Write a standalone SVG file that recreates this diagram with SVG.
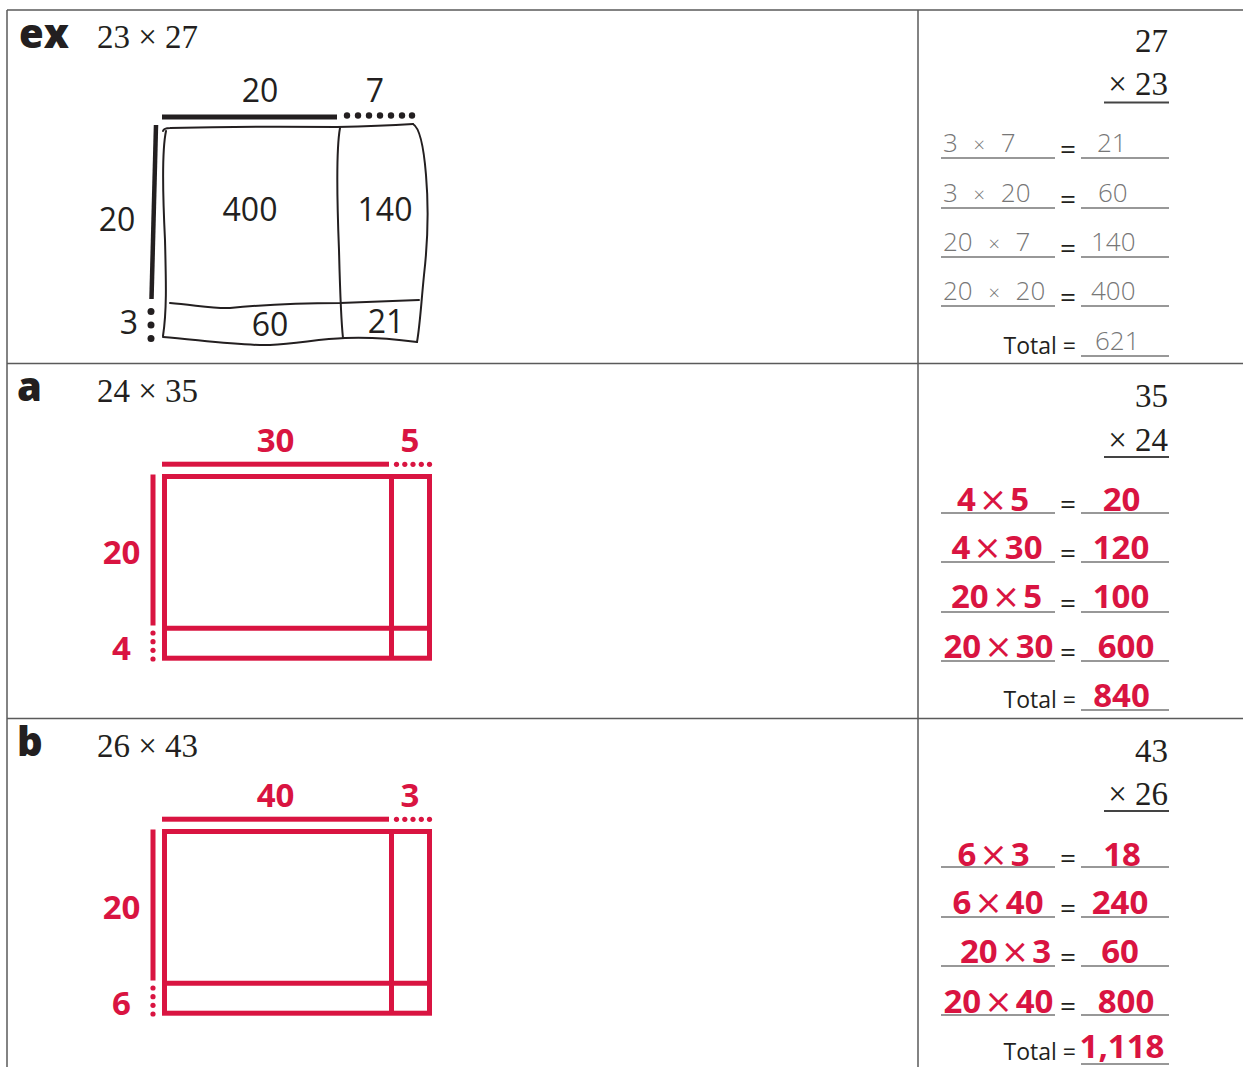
<svg xmlns="http://www.w3.org/2000/svg" width="1243" height="1067" viewBox="0 0 1243 1067">
<style>
.grid{stroke:#5a5a5a;stroke-width:1.5;fill:none}
.lbl{font-family:"Open Sans","Noto Sans",sans-serif;font-weight:800;font-size:40px;fill:#231f20}
.ser{font-family:"Liberation Serif","DejaVu Serif",serif;font-size:33px;fill:#231f20}
.num{font-family:"Open Sans","Noto Sans",sans-serif;font-size:32px;fill:#231f20;text-anchor:middle}
.red{font-family:"Open Sans","Noto Sans",sans-serif;font-weight:700;font-size:33px;fill:#d91441;text-anchor:middle}
.x{font-family:"DejaVu Sans",sans-serif;font-weight:400;font-size:34px}
.hw{font-family:"Open Sans","Noto Sans",sans-serif;font-weight:300;font-size:26px;fill:#777;word-spacing:9px}
.hx{font-size:20px}
.tot{font-family:"Open Sans","Noto Sans",sans-serif;font-size:23px;fill:#231f20}
.eq{font-family:"Open Sans","Noto Sans",sans-serif;font-size:28px;fill:#231f20;text-anchor:middle}
.ul{stroke:#333;stroke-width:1.2}
.ulh{stroke:#444;stroke-width:2}
.hand{fill:none;stroke:#231f20;stroke-width:2;stroke-linecap:round}
.rbar{fill:#d91441}
.rbox{fill:none;stroke:#d91441;stroke-width:5}
.rdot{fill:#d91441}
.kdot{fill:#231f20}
</style>
<g id="table">
<line class="grid" x1="7" y1="10" x2="1243" y2="10"/>
<line class="grid" x1="7" y1="10" x2="7" y2="1067"/>
<line class="grid" x1="918" y1="10" x2="918" y2="1067"/>
<line class="grid" x1="7" y1="363.5" x2="1243" y2="363.5"/>
<line class="grid" x1="7" y1="718.5" x2="1243" y2="718.5"/>
</g>

<g id="row-ex">
<text class="lbl" x="19" y="48">ex</text>
<text class="ser" x="97" y="48">23 × 27</text>
<rect x="162" y="114.5" width="175" height="5" fill="#231f20"/>
<g class="kdot">
<circle cx="347" cy="115.5" r="3.2"/><circle cx="358" cy="115.5" r="3.2"/><circle cx="369" cy="115.5" r="3.2"/><circle cx="380" cy="115.5" r="3.2"/><circle cx="391" cy="115.5" r="3.2"/><circle cx="402" cy="115.5" r="3.2"/><circle cx="412" cy="115.5" r="3.2"/>
</g>
<path d="M156 125 L151.5 299" stroke="#231f20" stroke-width="4.5" fill="none"/>
<g class="kdot">
<circle cx="151" cy="311.5" r="3.5"/><circle cx="151" cy="325" r="3.5"/><circle cx="151" cy="338.5" r="3.5"/>
</g>
<text class="num" x="260" y="102">20</text>
<text class="num" x="375" y="102">7</text>
<text class="num" x="117" y="231">20</text>
<text class="num" x="129" y="334">3</text>
<path class="hand" d="M163 131 Q164 128 170 128 Q250 126 337 127 Q380 126 413 124"/>
<path class="hand" d="M413 124 C420 128 424 150 426 175 C429 210 428 240 424 275 C421 305 420 325 417 342"/>
<path class="hand" d="M163 337 C200 340 240 346 270 345 C300 343 320 339 345 338 C370 337 395 339 417 342"/>
<path class="hand" d="M166 131 C162 150 163 200 165 240 C166 280 167 310 163 336"/>
<path class="hand" d="M340 128 C336 150 337 200 339 250 C340 290 341 320 343 338"/>
<path class="hand" d="M170 303 C195 305 215 309 230 308 C260 305 290 303 340 303 L419 300"/>
<text class="num" x="250" y="221">400</text>
<text class="num" x="385" y="221">140</text>
<text class="num" x="270" y="336">60</text>
<text class="num" x="386" y="333">21</text>
</g>

<g id="calc-ex">
<text class="ser" x="1168" y="52" text-anchor="end">27</text>
<text class="ser" x="1168" y="95" text-anchor="end">× 23</text>
<line class="ulh" x1="1104" y1="102.5" x2="1169" y2="102.5"/>
<g>
<line class="ul" x1="941" y1="158" x2="1055" y2="158"/><line class="ul" x1="1081" y1="158" x2="1169" y2="158"/>
<line class="ul" x1="941" y1="208" x2="1055" y2="208"/><line class="ul" x1="1081" y1="208" x2="1169" y2="208"/>
<line class="ul" x1="941" y1="257" x2="1055" y2="257"/><line class="ul" x1="1081" y1="257" x2="1169" y2="257"/>
<line class="ul" x1="941" y1="306" x2="1055" y2="306"/><line class="ul" x1="1081" y1="306" x2="1169" y2="306"/>
<line class="ul" x1="1081" y1="356" x2="1169" y2="356"/>
</g>
<text class="hw" x="943" y="152">3 <tspan class="hx">×</tspan> 7</text>
<text class="hw" x="943" y="202">3 <tspan class="hx">×</tspan> 20</text>
<text class="hw" x="943" y="251">20 <tspan class="hx">×</tspan> 7</text>
<text class="hw" x="943" y="300">20 <tspan class="hx">×</tspan> 20</text>
<text class="eq" x="1068" y="159">=</text>
<text class="eq" x="1068" y="209">=</text>
<text class="eq" x="1068" y="258">=</text>
<text class="eq" x="1068" y="307">=</text>
<text class="hw" x="1097" y="152">21</text>
<text class="hw" x="1098" y="202">60</text>
<text class="hw" x="1091" y="251">140</text>
<text class="hw" x="1091" y="300">400</text>
<text class="tot" x="1076" y="354" text-anchor="end">Total =</text>
<text class="hw" x="1095" y="350">621</text>
</g>

<g id="row-a">
<text class="lbl" x="17" y="401">a</text>
<text class="ser" x="97" y="402">24 × 35</text>
<rect class="rbar" x="162" y="461.7" width="227" height="5"/>
<g class="rdot"><circle cx="396.5" cy="464.3" r="2.6"/><circle cx="404.8" cy="464.3" r="2.6"/><circle cx="413" cy="464.3" r="2.6"/><circle cx="421.3" cy="464.3" r="2.6"/><circle cx="429.5" cy="464.3" r="2.6"/></g>
<rect class="rbar" x="150.5" y="474.5" width="5" height="151"/>
<g class="rdot"><circle cx="153" cy="633" r="2.6"/><circle cx="153" cy="641.7" r="2.6"/><circle cx="153" cy="650.3" r="2.6"/><circle cx="153" cy="659" r="2.6"/></g>
<rect class="rbox" x="164.5" y="476.5" width="265" height="181.7"/>
<line class="rbox" x1="391.5" y1="476.5" x2="391.5" y2="658.2"/>
<line class="rbox" x1="164.5" y1="628.2" x2="429.5" y2="628.2"/>
<text class="red" x="275.5" y="452">30</text>
<text class="red" x="410" y="452">5</text>
<text class="red" x="121.5" y="564">20</text>
<text class="red" x="121.5" y="660">4</text>
</g>

<g id="calc-a">
<text class="ser" x="1168" y="407" text-anchor="end">35</text>
<text class="ser" x="1168" y="451" text-anchor="end">× 24</text>
<line class="ulh" x1="1104" y1="457" x2="1169" y2="457"/>
<g>
<line class="ul" x1="941" y1="513" x2="1055" y2="513"/><line class="ul" x1="1081" y1="513" x2="1169" y2="513"/>
<line class="ul" x1="941" y1="562" x2="1055" y2="562"/><line class="ul" x1="1081" y1="562" x2="1169" y2="562"/>
<line class="ul" x1="941" y1="612" x2="1055" y2="612"/><line class="ul" x1="1081" y1="612" x2="1169" y2="612"/>
<line class="ul" x1="941" y1="661" x2="1055" y2="661"/><line class="ul" x1="1081" y1="661" x2="1169" y2="661"/>
<line class="ul" x1="1081" y1="710" x2="1169" y2="710"/>
</g>
<text class="red" x="993" y="511">4<tspan class="x" dx="3">×</tspan><tspan dx="3">5</tspan></text>
<text class="red" x="997" y="559">4<tspan class="x" dx="3">×</tspan><tspan dx="3">30</tspan></text>
<text class="red" x="996.5" y="608">20<tspan class="x" dx="3">×</tspan><tspan dx="3">5</tspan></text>
<text class="red" x="998.5" y="658">20<tspan class="x" dx="3">×</tspan><tspan dx="3">30</tspan></text>
<text class="eq" x="1068" y="514">=</text>
<text class="eq" x="1068" y="563">=</text>
<text class="eq" x="1068" y="613">=</text>
<text class="eq" x="1068" y="662">=</text>
<text class="red" x="1121.5" y="511">20</text>
<text class="red" x="1121" y="559">120</text>
<text class="red" x="1121" y="608">100</text>
<text class="red" x="1126" y="658">600</text>
<text class="tot" x="1076" y="708" text-anchor="end">Total =</text>
<text class="red" x="1121.5" y="707">840</text>
</g>

<g id="row-b">
<text class="lbl" x="17" y="756">b</text>
<text class="ser" x="97" y="757">26 × 43</text>
<rect class="rbar" x="162" y="816.7" width="227" height="5"/>
<g class="rdot"><circle cx="396.5" cy="819.3" r="2.6"/><circle cx="404.8" cy="819.3" r="2.6"/><circle cx="413" cy="819.3" r="2.6"/><circle cx="421.3" cy="819.3" r="2.6"/><circle cx="429.5" cy="819.3" r="2.6"/></g>
<rect class="rbar" x="150.5" y="829.5" width="5" height="151"/>
<g class="rdot"><circle cx="153" cy="988" r="2.6"/><circle cx="153" cy="996.7" r="2.6"/><circle cx="153" cy="1005.3" r="2.6"/><circle cx="153" cy="1014" r="2.6"/></g>
<rect class="rbox" x="164.5" y="831.5" width="265" height="181.7"/>
<line class="rbox" x1="391.5" y1="831.5" x2="391.5" y2="1013.2"/>
<line class="rbox" x1="164.5" y1="983.2" x2="429.5" y2="983.2"/>
<text class="red" x="275.5" y="807">40</text>
<text class="red" x="410" y="807">3</text>
<text class="red" x="121.5" y="919">20</text>
<text class="red" x="121.5" y="1015">6</text>
</g>

<g id="calc-b">
<text class="ser" x="1168" y="762" text-anchor="end">43</text>
<text class="ser" x="1168" y="805" text-anchor="end">× 26</text>
<line class="ulh" x1="1104" y1="811" x2="1169" y2="811"/>
<g>
<line class="ul" x1="941" y1="867" x2="1055" y2="867"/><line class="ul" x1="1081" y1="867" x2="1169" y2="867"/>
<line class="ul" x1="941" y1="917" x2="1055" y2="917"/><line class="ul" x1="1081" y1="917" x2="1169" y2="917"/>
<line class="ul" x1="941" y1="966" x2="1055" y2="966"/><line class="ul" x1="1081" y1="966" x2="1169" y2="966"/>
<line class="ul" x1="941" y1="1015" x2="1055" y2="1015"/><line class="ul" x1="1081" y1="1015" x2="1169" y2="1015"/>
<line class="ul" x1="1081" y1="1064" x2="1169" y2="1064"/>
</g>
<text class="red" x="993.5" y="866">6<tspan class="x" dx="3">×</tspan><tspan dx="3">3</tspan></text>
<text class="red" x="998" y="914">6<tspan class="x" dx="3">×</tspan><tspan dx="3">40</tspan></text>
<text class="red" x="1005.5" y="963">20<tspan class="x" dx="3">×</tspan><tspan dx="3">3</tspan></text>
<text class="red" x="998.5" y="1013">20<tspan class="x" dx="3">×</tspan><tspan dx="3">40</tspan></text>
<text class="eq" x="1068" y="868">=</text>
<text class="eq" x="1068" y="918">=</text>
<text class="eq" x="1068" y="967">=</text>
<text class="eq" x="1068" y="1016">=</text>
<text class="red" x="1122" y="866">18</text>
<text class="red" x="1120" y="914">240</text>
<text class="red" x="1120" y="963">60</text>
<text class="red" x="1126" y="1013">800</text>
<text class="tot" x="1076" y="1060" text-anchor="end">Total =</text>
<text class="red" x="1122" y="1058">1,118</text>
</g>
</svg>
